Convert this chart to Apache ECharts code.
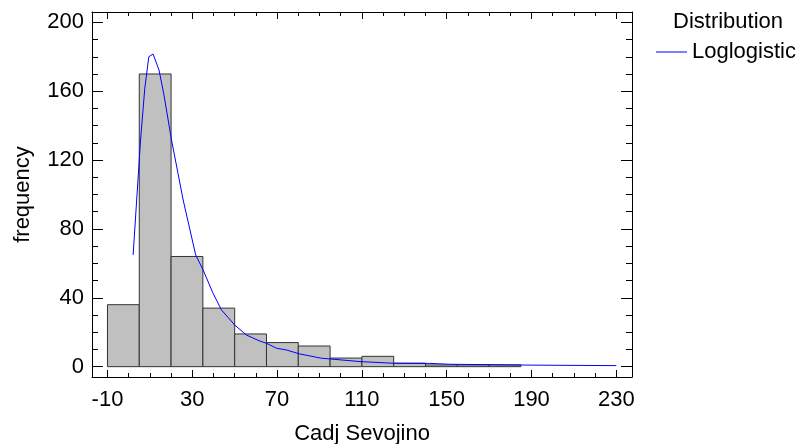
<!DOCTYPE html>
<html>
<head>
<meta charset="utf-8">
<script src="https://cdn.jsdelivr.net/npm/echarts@6/dist/echarts.min.js"></script>
<style>
  html, body { margin: 0; padding: 0; background: #fff; }
  #chart { width: 809px; height: 444px; }
</style>
</head>
<body>
<div id="chart"></div>
<script>
// histogram bins (Cadj Sevojino)
const binStart = [-10, 5, 20, 35, 50, 65, 80, 95, 110, 125, 140, 155, 170, 185, 200, 215];
const binEnd = [5, 20, 35, 50, 65, 80, 95, 110, 125, 140, 155, 170, 185, 200, 215, 230];
const counts = [36, 170, 64, 34, 19, 14, 12, 5, 6, 2, 1, 1, 1, 0, 0, 0];

// fitted loglogistic curve, scaled to frequency
const curveX = [2.1, 5.6, 7.6, 9.5, 11.5, 14.3, 16.5, 20.2, 25.7, 31.6, 35.1, 39.8, 43.8, 50.0,
  55.5, 61.8, 65.0, 69.7, 74.4, 80.7, 90.9, 109.8, 124.7, 142.0, 151.4, 190, 230];
const curveY = [64.9, 131.7, 161.7, 180.0, 181.6, 172.3, 158.8, 131.7, 96.8, 64.9, 56.2, 42.6, 32.9, 24.2,
  18.4, 14.9, 13.6, 10.7, 9.7, 7.4, 4.9, 2.9, 2.0, 1.9, 1.4, 0.9, 0.6];

// tick labels
const xMajor = [-10, 30, 70, 110, 150, 190, 230];
const xMinor = [0, 10, 20, 40, 50, 60, 80, 90, 100, 120, 130, 140, 160, 170, 180, 200, 210, 220];
const yMajor = [0, 40, 80, 120, 160, 200];
const yMinor = [10, 20, 30, 50, 60, 70, 90, 100, 110, 130, 140, 150, 170, 180, 190];

const FONT = 'Liberation Sans, Arial, sans-serif';
const X_MIN = -17.3, X_MAX = 237.4;
const Y_MIN = -6, Y_MAX = 206;

function xAx(pos, ticks, len, opts) {
  return Object.assign({
    type: 'value', position: pos, min: X_MIN, max: X_MAX,
    axisLine: { show: true, onZero: false, lineStyle: { color: '#000', width: 1 } },
    axisTick: { show: true, inside: true, length: len, customValues: ticks, lineStyle: { color: '#000' } },
    axisLabel: { show: false },
    splitLine: { show: false }
  }, opts || {});
}
function yAx(pos, ticks, len, opts) {
  return Object.assign({
    type: 'value', position: pos, min: Y_MIN, max: Y_MAX,
    axisLine: { show: true, onZero: false, lineStyle: { color: '#000', width: 1 } },
    axisTick: { show: true, inside: true, length: len, customValues: ticks, lineStyle: { color: '#000' } },
    axisLabel: { show: false },
    splitLine: { show: false }
  }, opts || {});
}
const noLine = { axisLine: { show: false, onZero: false } };

const chart = echarts.init(document.getElementById('chart'), null, { renderer: 'canvas' });

const option = {
  animation: false,
  backgroundColor: '#fff',
  textStyle: { fontFamily: FONT },
  title: {
    text: 'Distribution',
    left: 668,
    top: 6,
    textStyle: { fontFamily: FONT, fontSize: 22, fontWeight: 'normal', color: '#000' }
  },
  legend: {
    data: [{ name: 'Loglogistic', icon: 'rect' }],
    left: 651,
    top: 36,
    itemWidth: 31,
    itemHeight: 1,
    textStyle: { fontFamily: FONT, fontSize: 22, color: '#000' }
  },
  grid: { left: 92, right: 177, top: 12, bottom: 67, outerBoundsMode: 'none', containLabel: false },
  xAxis: [
    xAx('bottom', xMajor, 7, {
      name: 'Cadj Sevojino',
      nameLocation: 'middle',
      nameGap: 46,
      nameTextStyle: { fontFamily: FONT, fontSize: 22, color: '#000' },
      axisLabel: { show: true, customValues: xMajor, margin: 12, fontFamily: FONT, fontSize: 22, color: '#000' }
    }),
    xAx('bottom', xMinor, 4, noLine),
    xAx('top', xMajor, 7),
    xAx('top', xMinor, 4, noLine)
  ],
  yAxis: [
    yAx('left', yMajor, 11, {
      name: 'frequency',
      nameLocation: 'middle',
      nameGap: 58,
      nameTextStyle: { fontFamily: FONT, fontSize: 22, color: '#000' },
      axisLabel: { show: true, customValues: yMajor, margin: 8, fontFamily: FONT, fontSize: 22, color: '#000' }
    }),
    yAx('left', yMinor, 6, noLine),
    yAx('right', yMajor, 11),
    yAx('right', yMinor, 6, noLine)
  ],
  series: [
    {
      name: 'bins',
      type: 'custom',
      xAxisIndex: 0,
      yAxisIndex: 0,
      encode: { x: [0, 1], y: 2 },
      data: binStart.map((s, i) => [s, binEnd[i], counts[i]]),
      renderItem: function (params, api) {
        const n = api.value(2);
        if (!n) return null;
        const p0 = api.coord([api.value(0), n]);
        const p1 = api.coord([api.value(1), 0]);
        return {
          type: 'rect',
          shape: { x: p0[0], y: p0[1], width: p1[0] - p0[0], height: p1[1] - p0[1] },
          style: { fill: '#c0c0c0', stroke: '#333', lineWidth: 1 }
        };
      }
    },
    {
      name: 'Loglogistic',
      type: 'line',
      xAxisIndex: 0,
      yAxisIndex: 0,
      data: curveX.map((x, i) => [x, curveY[i]]),
      symbol: 'none',
      smooth: false,
      lineStyle: { color: '#0000ff', width: 1 },
      itemStyle: { color: '#0000ff' },
      z: 3
    }
  ]
};

chart.setOption(option);
</script>
</body>
</html>
